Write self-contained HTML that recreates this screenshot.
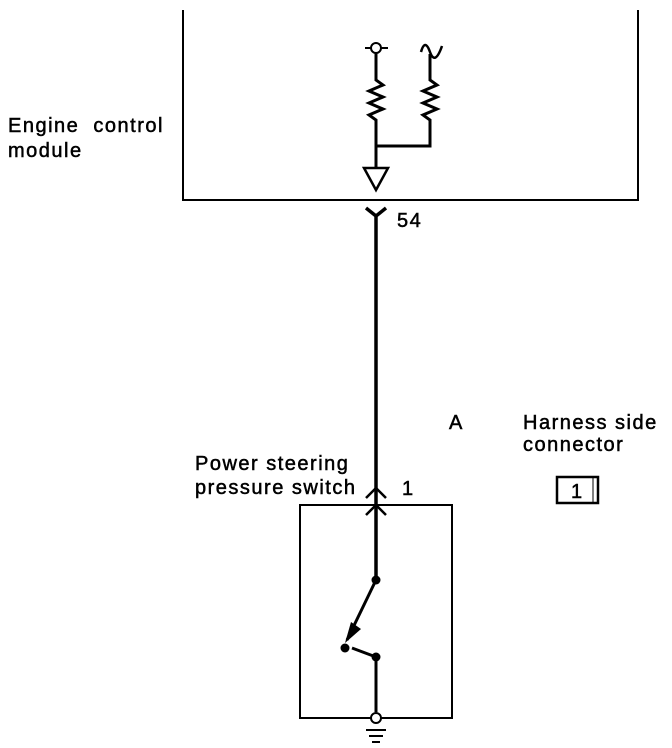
<!DOCTYPE html>
<html><head><style>
body{margin:0;background:#fff;}
svg{display:block;font-family:"Liberation Sans",Arial,sans-serif;}
text{font-size:20px;fill:#000;letter-spacing:1.5px;stroke:#000;stroke-width:0.5px;}
</style></head><body>
<svg width="672" height="748" viewBox="0 0 672 748">
<g stroke="#000" fill="none" stroke-width="2">
<path d="M183 10V200H638V10"/>
<path d="M365 48H388"/><circle cx="376" cy="48" r="5" fill="#fff"/>
<path d="M376 53V80l7 5-14 6 14 6-14 6 14 6-14 6 7 5V168" stroke-width="3"/>
<path d="M421 52q4-14 9 0t12-6" stroke-width="2.5"/>
<path d="M430 54V80l7 5-14 6 14 6-14 6 14 6-14 6 7 5V146H376" stroke-width="3"/>
<path d="M364 168H388L376 190Z" stroke-width="2.5"/>
<path d="M366 208L376 216L386 208M376 216V580" stroke-width="3.5"/>
<path d="M300 505H452V718H300Z"/>
<path d="M366 498L376 488L386 498M366 515L376 505L386 515" stroke-width="2.5"/>
<path d="M376 580L347 640" stroke-width="3"/>
<path d="M352 648L376 657M376 657V712" stroke-width="3" />
<path d="M366 730H386M369 736H383M372 742H380"/>
<path d="M557 477H598V503H557Z" stroke-width="2.5"/><path d="M593 478V502" stroke-width="1"/>
</g>
<circle cx="376" cy="580" r="4.5"/>
<circle cx="345" cy="648" r="4.5"/>
<circle cx="376" cy="657" r="4.5"/>
<path d="M345 643L351 622L361 629Z"/>
<circle cx="376" cy="718" r="5" fill="#fff" stroke="#000" stroke-width="2"/>
<text x="8" y="132" xml:space="preserve">Engine  control</text>
<text x="8" y="157">module</text>
<text x="397" y="227">54</text>
<text x="195" y="470">Power steering</text>
<text x="195" y="494">pressure switch</text>
<text x="402" y="495">1</text>
<text x="449" y="429">A</text>
<text x="523" y="429">Harness side</text>
<text x="523" y="451">connector</text>
<text x="571" y="498">1</text>
</svg>
</body></html>
